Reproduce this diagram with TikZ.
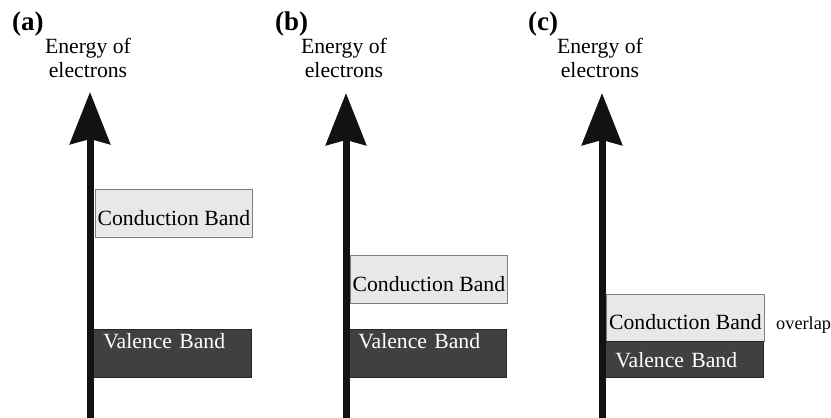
\documentclass[tikz,border=0pt]{standalone}
\usepackage{fontspec}
\setmainfont{Liberation Serif}
\usetikzlibrary{arrows.meta}
\begin{document}
\begin{tikzpicture}[
  x=1pt, y=-1pt,
  every node/.style={font=\rmfamily},
  panel/.style={font=\rmfamily\fontsize{27}{30}\selectfont\bfseries, inner sep=0pt, anchor=base west},
  axislabel/.style={font=\rmfamily\fontsize{21.7}{24}\selectfont, align=center, inner sep=0pt, anchor=base},
  axisarrow/.style={line width=7pt, draw=black!93, -{Stealth[length=52pt,width=40pt,inset=5pt]}},
  condband/.style={draw=black!50, line width=0.8pt, fill=black!9, anchor=north west,
    font=\rmfamily\fontsize{21.7}{24}\selectfont, minimum width=157pt, inner sep=0pt,
    text height=36pt, text depth=12pt},
  valband/.style={draw=black!85, line width=0.8pt, fill=black!75, text=white, anchor=north west,
    font=\rmfamily\fontsize{21.7}{24}\selectfont, text width=138pt, align=left, inner xsep=10pt,
    inner ysep=0pt, text height=19pt, text depth=29pt}
]
\useasboundingbox (0,0) rectangle (831,418);

% (a) insulator
\node[panel] (pa) at (12,30) {(a)};
\node[axislabel] (ea) at (88,77) {Energy of\\electrons};
\node[condband] (cba) at (95,189) {Conduction Band};
\node[valband] (vba) at (93,329) {Valence Band};
\coordinate (a0) at (90,418);
\coordinate (a1) at (90,92);
\draw[axisarrow] (a0) -- (a1);

% (b) semiconductor
\node[panel] (pb) at (275,30) {(b)};
\node[axislabel] (eb) at (344,77) {Energy of\\electrons};
\node[condband] (cbb) at (350,255) {Conduction Band};
\node[valband] (vbb) at (348,329) {Valence Band};
\coordinate (b0) at (346,418);
\coordinate (b1) at (346,93);
\draw[axisarrow] (b0) -- (b1);

% (c) conductor
\node[panel] (pc) at (528,30) {(c)};
\node[axislabel] (ec) at (600,77) {Energy of\\electrons};
\node[condband, minimum width=158pt, text height=35pt] (cbc) at (606,294) {Conduction Band};
\node[valband, text height=26pt, text depth=10pt] (vbc) at (605,341) {Valence Band};
\node[font=\rmfamily\fontsize{18.3}{20}\selectfont, inner sep=0pt, anchor=base west] (ov) at (776,329) {overlap};
\coordinate (c0) at (602,418);
\coordinate (c1) at (602,93);
\draw[axisarrow] (c0) -- (c1);
\end{tikzpicture}
\end{document}
